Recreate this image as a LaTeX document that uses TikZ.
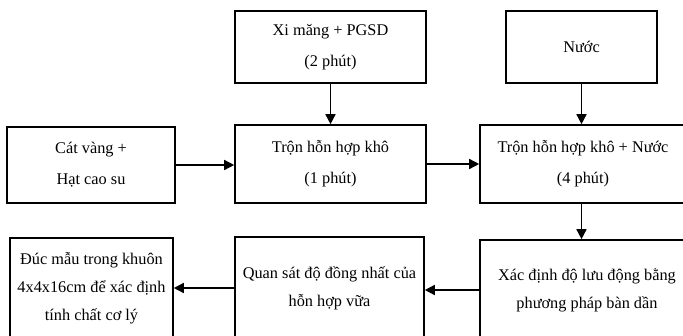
\documentclass[tikz,border=0pt]{standalone}
\usepackage{fontspec}
\setmainfont{Liberation Serif}
\usetikzlibrary{arrows.meta}
\begin{document}
\begin{tikzpicture}[x=1pt,y=-1pt,
  box/.style={draw=black, line width=1.6pt, rectangle, inner sep=0pt, align=center,
    font=\fontsize{16.3}{31}\selectfont},
  lowbox/.style={box, font=\fontsize{16.3}{28}\selectfont},
  arr/.style={draw=black, line width=1.5pt, -{Triangle[length=10pt,width=10pt]}}]
\useasboundingbox (0,0) rectangle (683,335);
\node[box, minimum width=191pt, minimum height=72pt] (xi) at (330.5,47) {Xi măng + PGSD\\(2 phút)};
\node[box, minimum width=151pt, minimum height=72pt] (nuoc) at (581.5,47) {Nước};
\node[box, minimum width=168pt, minimum height=76pt] (cat) at (91,165) {Cát vàng +\\Hạt cao su};
\node[box, minimum width=191pt, minimum height=78pt] (tron) at (330.5,164) {Trộn hỗn hợp khô\\(1 phút)};
\node[box, minimum width=206pt, minimum height=78pt] (tronN) at (583,164) {Trộn hỗn hợp khô + Nước\\(4 phút)};
\node[lowbox, minimum width=214pt, minimum height=100pt] (xac) at (587,290) {Xác định độ lưu động bằng\\phương pháp bàn dần};
\node[lowbox, minimum width=189pt, minimum height=102pt] (quan) at (329.5,288) {Quan sát độ đồng nhất của\\hỗn hợp vữa};
\node[lowbox, minimum width=163pt, minimum height=100pt] (duc) at (91.5,288) {Đúc mẫu trong khuôn\\4x4x16cm để xác định\\tính chất cơ lý};
\draw[arr] (xi.south) -- (tron.north);
\draw[arr] (nuoc.south) -- (nuoc.south |- tronN.north);
\draw[arr] (cat.east) -- (cat.east -| tron.west);
\draw[arr] (tron.east) -- (tron.east -| tronN.west);
\draw[arr] (tronN.south -| nuoc.south) -- (nuoc.south |- xac.north);
\draw[arr] (xac.west) -- (xac.west -| quan.east);
\draw[arr] (quan.west) -- (quan.west -| duc.east);
\end{tikzpicture}
\end{document}
